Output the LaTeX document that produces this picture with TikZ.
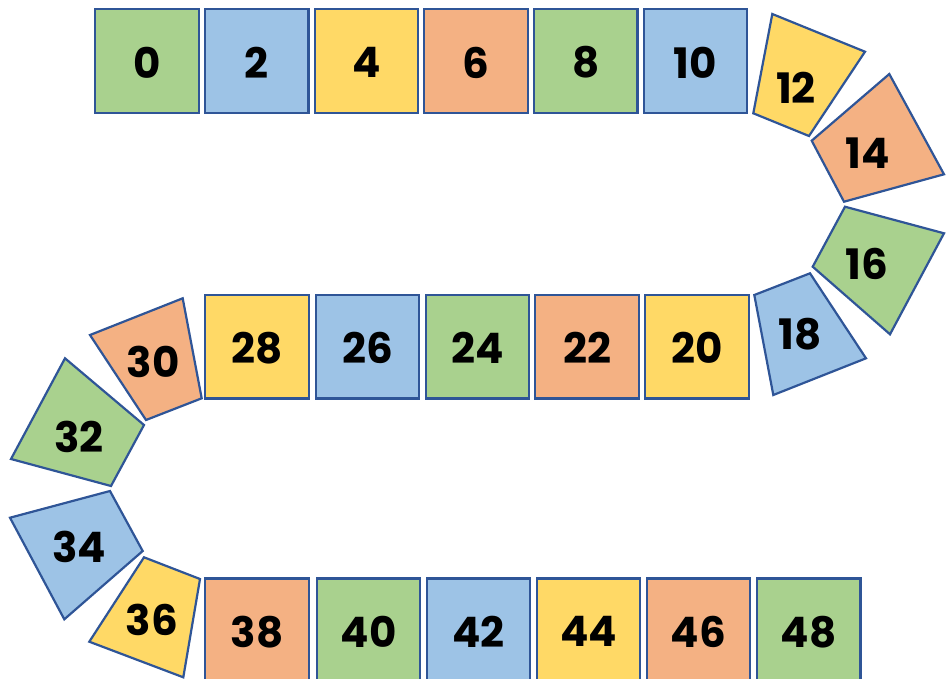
\documentclass[tikz,border=0pt]{standalone}
\usepackage{fontspec}
\setmainfont{Poppins}
\definecolor{cgreen}{HTML}{A9D18E}
\definecolor{cblue}{HTML}{9DC3E6}
\definecolor{cyellow}{HTML}{FFD966}
\definecolor{corange}{HTML}{F4B183}
\definecolor{edge}{HTML}{2F5597}
\tikzset{
  tile/.style={draw=edge, line width=2.2pt, line join=miter},
  sq/.style={tile, minimum width=103.5pt, minimum height=103.5pt, inner sep=0pt},
  lbl/.style={font=\fontsize{42}{42}\selectfont\bfseries, inner sep=0pt, yshift=-1.5pt}
}
\begin{document}
\begin{tikzpicture}[x=1pt,y=-1pt]
\useasboundingbox (0,0) rectangle (951,678);
% top row
\node[sq, fill=cgreen]  (s0)  at (147,61) {};
\node[sq, fill=cblue]   (s2)  at (256.7,61) {};
\node[sq, fill=cyellow] (s4)  at (366.4,61) {};
\node[sq, fill=corange] (s6)  at (476,61) {};
\node[sq, fill=cgreen]  (s8)  at (585.8,61) {};
\node[sq, fill=cblue]   (s10) at (695.5,61) {};
\foreach \n/\t in {s0/0, s2/2, s4/4, s6/6, s8/8, s10/10}
  \node[lbl] (l\n) at (\n) {\t};
% right turn
\draw[tile, fill=cyellow] (772.3,14) -- (865,51.7) -- (809,136) -- (753.3,113.3) -- cycle;
\node[lbl] (t12) at (796,86) {12};
\draw[tile, fill=corange] (889.3,74) -- (944,174.3) -- (844,201.7) -- (811.7,140.7) -- cycle;
\node[lbl] (t14) at (868,152) {14};
\draw[tile, fill=cgreen] (845,206.7) -- (944,233.3) -- (890,334.3) -- (812.7,266.7) -- cycle;
\node[lbl] (t16) at (867,262) {16};
\draw[tile, fill=cblue] (810,273.3) -- (866,358.3) -- (773.3,395) -- (754.3,295) -- cycle;
\node[lbl] (t18) at (800,333) {18};
% middle row
\node[sq, fill=cyellow] (s20) at (697,346.7) {};
\node[sq, fill=corange] (s22) at (587,346.7) {};
\node[sq, fill=cgreen]  (s24) at (477.5,346.7) {};
\node[sq, fill=cblue]   (s26) at (367.5,346.7) {};
\node[sq, fill=cyellow] (s28) at (257,346.7) {};
\foreach \n/\t in {s20/20, s22/22, s24/24, s26/26, s28/28}
  \node[lbl] (l\n) at (\n) {\t};
% left turn
\draw[tile, fill=corange] (182.7,298.3) -- (201.7,398.3) -- (146,420) -- (90,335) -- cycle;
\node[lbl] (t30) at (153,360) {30};
\draw[tile, fill=cgreen] (65,358.3) -- (144,425) -- (111,486) -- (11,459) -- cycle;
\node[lbl] (t32) at (79,435) {32};
\draw[tile, fill=cblue] (110,491) -- (142.7,551) -- (64.3,619.3) -- (10,517.7) -- cycle;
\node[lbl] (t34) at (79,545) {34};
\draw[tile, fill=cyellow] (144,557.3) -- (200,579) -- (183.3,677.3) -- (89.3,641.7) -- cycle;
\node[lbl] (t36) at (152,618) {36};
% bottom row
\node[sq, fill=corange] (s38) at (257,630.3) {};
\node[sq, fill=cgreen]  (s40) at (368.5,630.3) {};
\node[sq, fill=cblue]   (s42) at (478.5,630.3) {};
\node[sq, fill=cyellow] (s44) at (588.5,630.3) {};
\node[sq, fill=corange] (s46) at (698.5,630.3) {};
\node[sq, fill=cgreen]  (s48) at (808.7,630.3) {};
\foreach \n/\t in {s38/38, s40/40, s42/42, s44/44, s46/46, s48/48}
  \node[lbl] (l\n) at (\n) {\t};
\end{tikzpicture}
\end{document}
